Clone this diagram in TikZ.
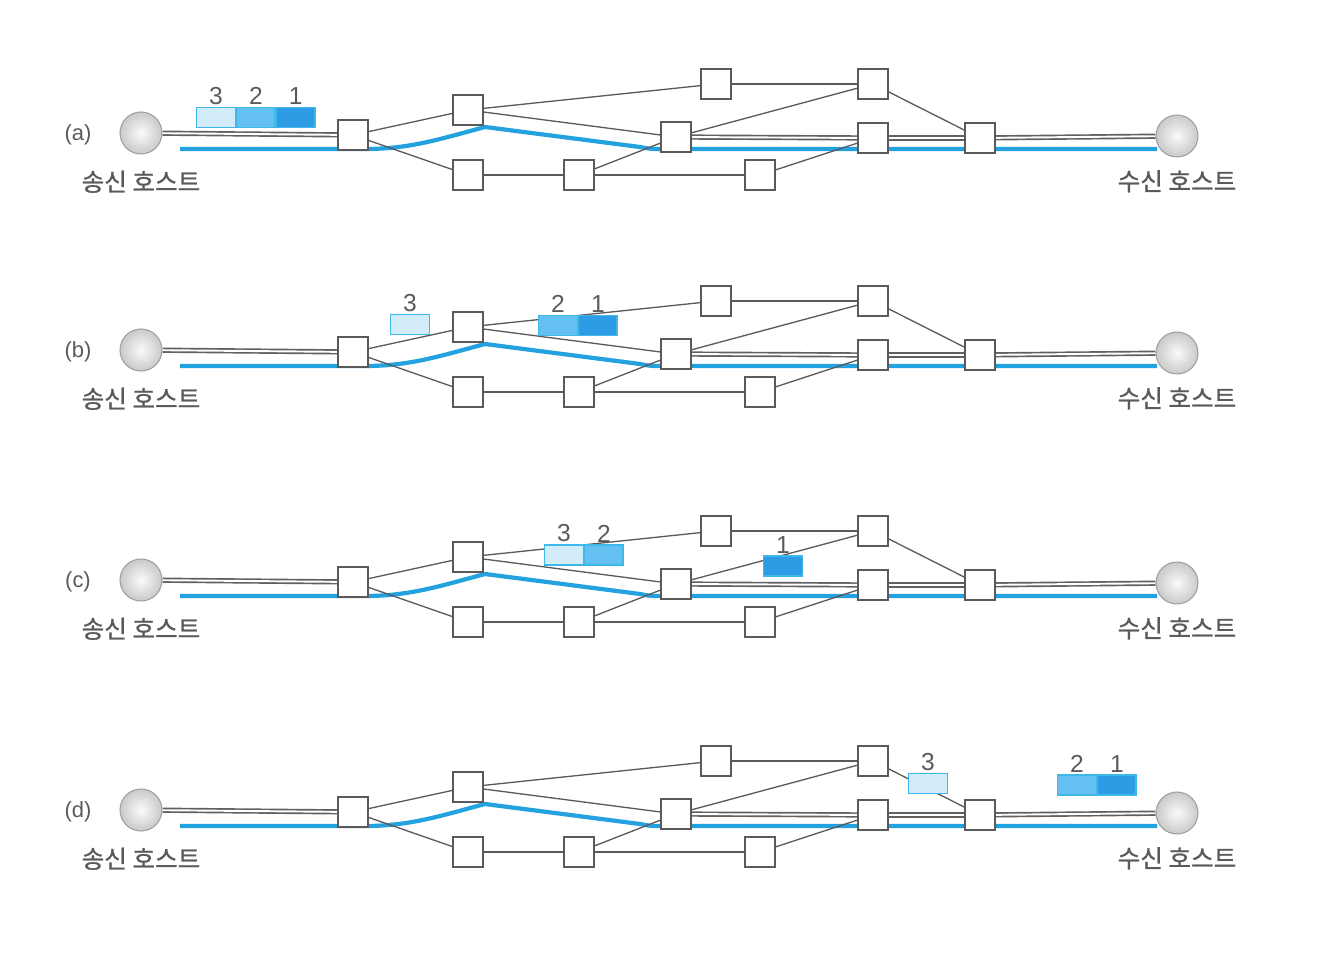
\documentclass[tikz,border=0pt]{standalone}
\usepackage{fontspec}
\setmainfont{Liberation Sans}
\newfontfamily\krfont{Noto Sans CJK KR}[FakeBold=1]
\usetikzlibrary{positioning,backgrounds}

\definecolor{route}{RGB}{36,162,224}
\definecolor{wire}{RGB}{90,90,90}
\definecolor{pktedge}{RGB}{62,184,232}
\definecolor{pktlight}{RGB}{210,236,250}
\definecolor{pktmid}{RGB}{100,192,240}
\definecolor{pktdark}{RGB}{46,156,228}
\definecolor{txtgray}{RGB}{90,90,90}

\begin{document}
\begin{tikzpicture}[
	x = 0.02cm,
	y = -0.02cm,
	router/.style = {draw = wire, fill = white, line width = 0.8pt,
		minimum size = 0.6cm, inner sep = 0pt},
	host/.style = {circle, draw = gray!75, shading = radial,
		inner color = gray!4, outer color = gray!42,
		minimum size = 0.84cm, inner sep = 0pt, line width = 0.6pt},
	hostname/.style = {font = \krfont\fontsize{14}{16}\selectfont,
		text = txtgray, inner sep = 1pt},
	panel/.style = {font = \fontsize{12.5}{14}\selectfont, text = txtgray},
	link/.style = {draw = wire, line width = 0.75pt},
	trunk/.style = {draw = gray!75!black, line width = 0.95pt,
		double = white, double distance = 1.1pt},
	path/.style = {draw = route, line width = 2.4pt},
	pkt/.style = {draw = pktedge, line width = 0.8pt,
		minimum width = 0.77cm, minimum height = 0.4cm, inner sep = 0pt},
	num/.style = {font = \fontsize{14}{16}\selectfont, text = txtgray,
		inner sep = 1pt},
]

	\useasboundingbox (0,0) rectangle (1320,956);

	\foreach \p/\dy in {a/0, b/217, c/447, d/677} {
	\begin{scope}[shift = {(0,\dy)}]

		\node[panel, name = lb\p] at (78,135) {(\p)};

		\node[
			host,
			name = s\p,
			label = {[hostname, label distance = 8pt]below:송신 호스트},
		] at (141,133) {};
		\node[
			host,
			name = t\p,
			label = {[hostname, label distance = 6pt]below:수신 호스트},
		] at (1177,136) {};

		\node[router, name = r1\p] at (353,135) {};
		\node[router, name = r2\p] at (468,110) {};
		\node[router, name = r3\p] at (468,175) {};
		\node[router, name = r4\p] at (579,175) {};
		\node[router, name = r5\p] at (676,137) {};
		\node[router, name = r6\p] at (716,84) {};
		\node[router, name = r7\p] at (760,175) {};
		\node[router, name = r8\p] at (873,84) {};
		\node[router, name = r9\p] at (873,138) {};
		\node[router, name = r10\p] at (980,138) {};

		\coordinate (go\p) at (180,149);
		\coordinate (top\p) at (485,127);
		\coordinate (end\p) at (1157,149);

		\begin{scope}[on background layer]
			\draw[path]
				(go\p) -- (365,149)
				.. controls (410,149) and (440,139) .. (top\p)
				-- (640,147) .. controls (650,149) .. (665,149)
				-- (end\p);
			\foreach \u/\v in {r1/r2, r1/r3, r2/r6, r2/r5, r3/r4, r4/r7,
					r4/r5, r5/r8, r6/r8, r7/r9, r8/r10}
				\draw[link] (\u\p) -- (\v\p);
			\foreach \u/\v in {s/r1, r5/r9, r9/r10, r10/t}
				\draw[trunk] (\u\p) -- (\v\p);
		\end{scope}

	\end{scope}
	}

	% (a)
	\node[pkt, fill = pktlight, name = pk3a, label = {[num]above:3}]
		at (216,117.5) {};
	\node[pkt, fill = pktmid, right = 0pt of pk3a, name = pk2a,
		label = {[num]above:2}] {};
	\node[pkt, fill = pktdark, right = 0pt of pk2a, name = pk1a,
		label = {[num]above:1}] {};

	% (b)
	\node[pkt, fill = pktlight, name = pk3b, label = {[num]above:3}]
		at (410,324.5) {};
	\node[pkt, fill = pktmid, name = pk2b, label = {[num]above:2}]
		at (558,325.5) {};
	\node[pkt, fill = pktdark, right = 0pt of pk2b, name = pk1b,
		label = {[num]above:1}] {};

	% (c)
	\node[pkt, fill = pktlight, name = pk3c, label = {[num]above:3}]
		at (564,555) {};
	\node[pkt, fill = pktmid, right = 0pt of pk3c, name = pk2c,
		label = {[num]above:2}] {};
	\node[pkt, fill = pktdark, name = pk1c, label = {[num]above:1}]
		at (783,566) {};

	% (d)
	\node[pkt, fill = pktlight, name = pk3d, label = {[num]above:3}]
		at (928,783.5) {};
	\node[pkt, fill = pktmid, name = pk2d, label = {[num]above:2}]
		at (1077,785) {};
	\node[pkt, fill = pktdark, right = 0pt of pk2d, name = pk1d,
		label = {[num]above:1}] {};

\end{tikzpicture}
\end{document}
